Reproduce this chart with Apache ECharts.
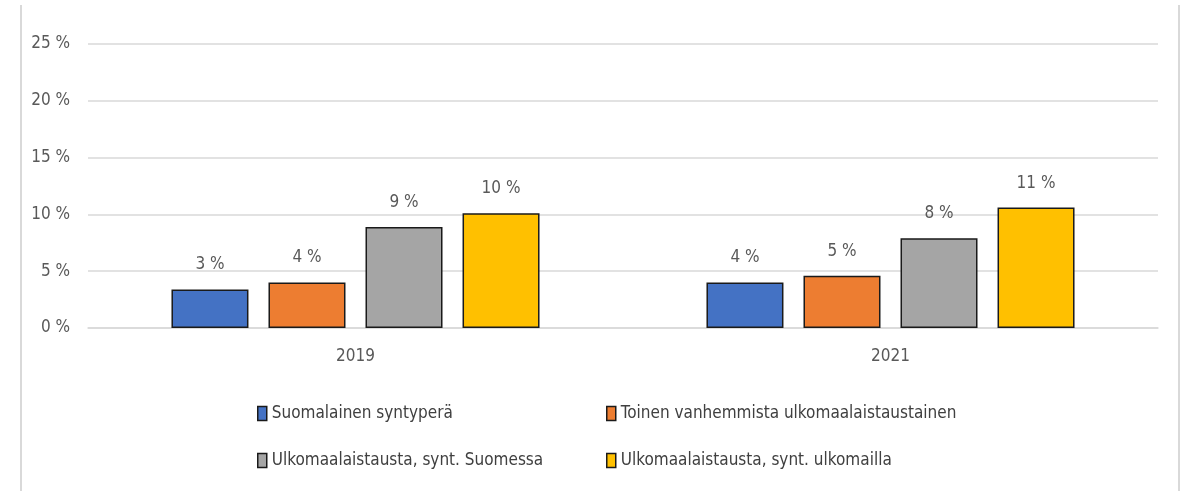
<!DOCTYPE html>
<html>
<head>
    <meta charset="UTF-8">
    <title>Ulkomaalaistausta</title>
    <script src="https://cdn.jsdelivr.net/npm/echarts@6/dist/echarts.min.js"></script>
    <style>
        html, body { margin: 0; padding: 0; background: #fff; }
        #main { width: 1183px; height: 491px; }
    </style>
</head>
<body>
    <div id="main"></div>
    <script>
        var years = ['2019', '2021'];
        var seriesNames = [
            'Suomalainen syntyperä',
            'Toinen vanhemmista ulkomaalaistaustainen',
            'Ulkomaalaistausta, synt. Suomessa',
            'Ulkomaalaistausta, synt. ulkomailla'
        ];
        var suomalainen = [3.4, 4.0];
        var toinenVanhempi = [4.0, 4.6];
        var syntSuomessa = [8.9, 7.9];
        var syntUlkomailla = [10.1, 10.6];
        var colors = ['#4472C4', '#ED7D31', '#A5A5A5', '#FFC000'];

        var font = '"Liberation Sans Narrow", "DejaVu Sans Condensed", sans-serif';
        var chart = echarts.init(document.getElementById('main'), null, {renderer: 'canvas'});

        function bar(name, data, i) {
            return {
                name: name,
                type: 'bar',
                data: data,
                barWidth: 77,
                barGap: '26%',
                itemStyle: { color: colors[i], borderColor: '#1a1a1a', borderWidth: 1.5 },
                label: {
                    show: true,
                    position: 'top',
                    distance: 16,
                    color: '#595959',
                    fontFamily: font,
                    fontSize: 17,
                    formatter: function (p) { return Math.round(p.value) + ' %'; }
                }
            };
        }

        var legendText = { color: '#404040', fontFamily: font, fontSize: 17 };

        chart.setOption({
            animation: false,
            grid: { left: 88, right: 25, top: 44, bottom: 163 },
            xAxis: {
                type: 'category',
                data: years,
                axisTick: { show: false },
                axisLine: { lineStyle: { color: '#d9d9d9', width: 1.5 } },
                axisLabel: { color: '#595959', fontFamily: font, fontSize: 17, margin: 20 }
            },
            yAxis: {
                type: 'value',
                min: 0,
                max: 25,
                interval: 5,
                axisLabel: {
                    color: '#595959', fontFamily: font, fontSize: 17, margin: 18,
                    formatter: function (v) { return v + ' %'; }
                },
                splitLine: { lineStyle: { color: '#d9d9d9', width: 1.5 } }
            },
            legend: [
                {
                    data: [seriesNames[0], seriesNames[2]],
                    orient: 'vertical',
                    left: 252, top: 400,
                    icon: 'rect',
                    itemGap: 30, itemWidth: 9, itemHeight: 14,
                    textStyle: legendText,
                    itemStyle: { borderColor: '#1a1a1a', borderWidth: 1.5 }
                },
                {
                    data: [seriesNames[1], seriesNames[3]],
                    orient: 'vertical',
                    left: 601, top: 400,
                    icon: 'rect',
                    itemGap: 30, itemWidth: 9, itemHeight: 14,
                    textStyle: legendText,
                    itemStyle: { borderColor: '#1a1a1a', borderWidth: 1.5 }
                }
            ],
            graphic: [
                { type: 'line', shape: { x1: 21, y1: 5, x2: 21, y2: 491 }, style: { stroke: '#d9d9d9', lineWidth: 2 } },
                { type: 'line', shape: { x1: 1179, y1: 5, x2: 1179, y2: 491 }, style: { stroke: '#d9d9d9', lineWidth: 2 } }
            ],
            series: [
                bar(seriesNames[0], suomalainen, 0),
                bar(seriesNames[1], toinenVanhempi, 1),
                bar(seriesNames[2], syntSuomessa, 2),
                bar(seriesNames[3], syntUlkomailla, 3)
            ]
        });
    </script>
</body>
</html>
